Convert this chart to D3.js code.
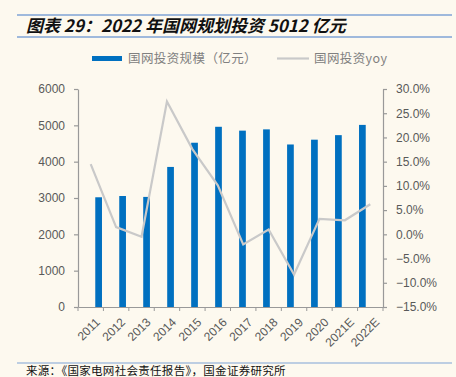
<!DOCTYPE html>
<html>
<head>
<meta charset="utf-8">
<script src="https://cdn.jsdelivr.net/npm/d3@7"></script>
<style>
  body { margin: 0; background: #fdf9ef; }
  svg { display: block; }
</style>
</head>
<body>
<div id="chart"></div>
<script>
const years = ["2011", "2012", "2013", "2014", "2015", "2016", "2017", "2018", "2019", "2020", "2021E", "2022E"];
const investment = [3020, 3055, 3030, 3855, 4521, 4960, 4854, 4889, 4473, 4605, 4730, 5012];
const yoy = [14.5, 1.5, -0.5, 27.4, 17.6, 10.1, -2.1, 1.0, -8.3, 3.2, 2.9, 6.2];
const leftTicks = [0, 1000, 2000, 3000, 4000, 5000, 6000];
const rightTicks = [-15, -10, -5, 0, 5, 10, 15, 20, 25, 30];

const W = 456, H = 377;
const margin = { top: 89, right: 73, bottom: 70, left: 78 };
const width = W - margin.left - margin.right;
const height = H - margin.top - margin.bottom;
const fontCN = "'Noto Sans CJK SC', sans-serif";
const fontNum = "'Liberation Sans', Arial, sans-serif";

const svg = d3.select("#chart")
    .append("svg")
    .attr("width", W)
    .attr("height", H)
    .style("background", "#fdf9ef");

// title block
svg.append("line").attr("x1", 17).attr("x2", 452).attr("y1", 15).attr("y2", 15)
    .attr("stroke", "#7fa3d6").attr("stroke-width", 1.5);
svg.append("line").attr("x1", 17).attr("x2", 452).attr("y1", 37).attr("y2", 37)
    .attr("stroke", "#7fa3d6").attr("stroke-width", 1.5);
svg.append("text")
    .attr("x", 26).attr("y", 32)
    .style("font-family", fontCN)
    .style("font-size", "17px")
    .style("font-weight", "bold")
    .style("font-style", "italic")
    .attr("fill", "#111")
    .text("图表 29：2022 年国网规划投资 5012 亿元");

const g = svg.append("g").attr("transform", `translate(${margin.left},${margin.top})`);

const x = d3.scaleBand().domain(years).range([0, width]).padding(0.72);
const xPoint = d3.scaleBand().domain(years).range([0, width]);
const yLeft = d3.scaleLinear().domain([0, 6000]).range([height, 0]);
const yRight = d3.scaleLinear().domain([-15, 30]).range([height, 0]);

// bars
g.selectAll(".bar")
    .data(years)
    .enter().append("rect")
    .attr("class", "bar")
    .attr("x", d => x(d))
    .attr("width", x.bandwidth())
    .attr("y", (d, i) => yLeft(investment[i]))
    .attr("height", (d, i) => height - yLeft(investment[i]))
    .attr("fill", "#0070c0");

// yoy line
const line = d3.line()
    .x((d, i) => xPoint(years[i]) + xPoint.bandwidth() / 2)
    .y(d => yRight(d));
g.append("path")
    .datum(yoy)
    .attr("d", line)
    .attr("fill", "none")
    .attr("stroke", "#c9c9c9")
    .attr("stroke-width", 2.2);

// axes
const axisColor = "#999";
const textColor = "#595959";

const leftAxis = g.append("g")
    .call(d3.axisLeft(yLeft).tickValues(leftTicks).tickSize(4).tickSizeOuter(0).tickPadding(9)
        .tickFormat(d3.format("d")));
const rightAxis = g.append("g")
    .attr("transform", `translate(${width},0)`)
    .call(d3.axisRight(yRight).tickValues(rightTicks).tickSize(4).tickSizeOuter(0).tickPadding(9)
        .tickFormat(d => d3.format(".1f")(d) + "%"));
const bottomAxis = g.append("g")
    .attr("transform", `translate(0,${height})`)
    .call(d3.axisBottom(xPoint).tickSize(0).tickFormat(""));

// bottom ticks at category boundaries
g.selectAll(".xtick")
    .data(d3.range(years.length + 1))
    .enter().append("line")
    .attr("class", "xtick")
    .attr("x1", d => d * xPoint.step())
    .attr("x2", d => d * xPoint.step())
    .attr("y1", height)
    .attr("y2", height + 4)
    .attr("stroke", axisColor);

[leftAxis, rightAxis, bottomAxis].forEach(a => {
    a.selectAll("path, line").attr("stroke", axisColor).attr("stroke-width", 1.2);
    a.selectAll("text")
        .attr("fill", textColor)
        .style("font-family", fontNum)
        .style("font-size", "12px");
});

// rotated x labels
g.selectAll(".xlabel")
    .data(years)
    .enter().append("text")
    .attr("class", "xlabel")
    .attr("transform", d => `translate(${xPoint(d) + xPoint.bandwidth() / 2 + 4},${height + 10}) rotate(-45)`)
    .attr("text-anchor", "end")
    .attr("dy", "0.7em")
    .attr("fill", textColor)
    .style("font-family", fontNum)
    .style("font-size", "12px")
    .text(d => d);

// legend
const legend = svg.append("g");
legend.append("rect")
    .attr("x", 92).attr("y", 56).attr("width", 30).attr("height", 5)
    .attr("fill", "#0070c0");
legend.append("text")
    .attr("x", 128).attr("y", 63)
    .attr("fill", "#808080")
    .style("font-family", fontCN)
    .style("font-size", "12.5px")
    .style("letter-spacing", "0.4px")
    .text("国网投资规模（亿元）");
legend.append("line")
    .attr("x1", 277).attr("x2", 309).attr("y1", 58.5).attr("y2", 58.5)
    .attr("stroke", "#c9c9c9").attr("stroke-width", 2.2);
legend.append("text")
    .attr("x", 314).attr("y", 63)
    .attr("fill", "#808080")
    .style("font-family", fontCN)
    .style("font-size", "12.5px")
    .style("letter-spacing", "0.4px")
    .text("国网投资yoy");

// source
svg.append("line").attr("x1", 17).attr("x2", 452).attr("y1", 363).attr("y2", 363)
    .attr("stroke", "#7fa3d6").attr("stroke-width", 1.2);
svg.append("text")
    .attr("x", 26).attr("y", 375)
    .attr("fill", "#111")
    .style("font-family", fontCN)
    .style("font-size", "11.5px")
    .style("letter-spacing", "0.3px")
    .text("来源：《国家电网社会责任报告》，国金证券研究所");
</script>
</body>
</html>
